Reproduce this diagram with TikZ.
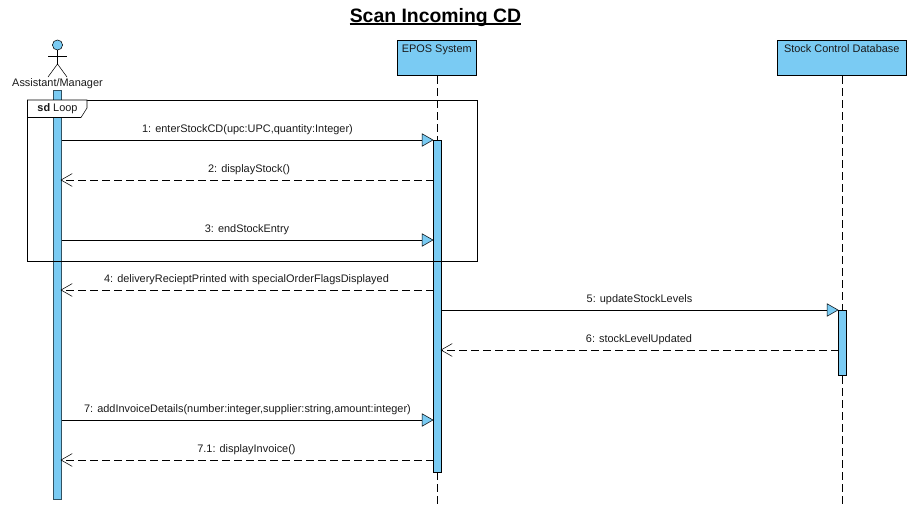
\documentclass[tikz,border=0pt]{standalone}
\usepackage{fontspec}
\setmainfont{Liberation Sans}
\usetikzlibrary{positioning,arrows.meta}
\definecolor{barblue}{HTML}{7ACBF3}
\definecolor{inktext}{HTML}{1A1A1A}
\tikzset{
line width=0.75pt,
lifebox/.style={draw, fill=barblue, anchor=north west, inner sep=0pt},
lifeline/.style={dash pattern=on 6pt off 3pt},
activation/.style={draw, fill=barblue, minimum width=6.2pt, inner sep=0pt, anchor=north},
msgtext/.style={font=\fontsize{8.2}{10}\selectfont, text=inktext, inner sep=0pt},
call/.style={-{Triangle[open, fill=barblue, length=8.8pt, width=10pt]}},
reply/.style={dash pattern=on 6pt off 3pt, -{Straight Barb[length=8.4pt, width=9.6pt]}},
}

\begin{document}
\begin{tikzpicture}
    [x=0.75pt, y=-0.75pt]
    \useasboundingbox (0,0) rectangle (911,504);

    \node [font=\bfseries\fontsize{14.55}{16}\selectfont, inner sep=0pt, anchor=base] (title) at (435.5,22.7) {Scan Incoming CD};
    \draw [line width=1.4pt] ([yshift=-1.1pt]title.base west) -- ([yshift=-1.1pt]title.base east);

    % actor
    \node [draw, circle, fill=barblue, minimum size=7.6pt, inner sep=0pt] (head) at (57.5,45) {};
    \coordinate (armL) at (48,56);
    \coordinate (armR) at (67,56);
    \coordinate (hip) at (57.5,64);
    \coordinate (footL) at (48,77);
    \coordinate (footR) at (67,77);
    \draw (head) -- (hip);
    \draw (armL) -- (armR);
    \draw (footL) -- (hip) -- (footR);
    \node [msgtext] (actor) at (57.5,84) {Assistant/Manager};

    % lifeline heads
    \node [lifebox, minimum width=59.25pt, minimum height=26.6pt] (epos) at (397,40) {};
    \node [msgtext, below=3.6pt of epos.north] (eposname) {EPOS System};
    \node [lifebox, minimum width=96.75pt, minimum height=26.6pt] (stock) at (777,40) {};
    \node [msgtext, below=3.6pt of stock.north] (stockname) {Stock Control Database};

    \coordinate (pageend) at (0,504);
    \draw [lifeline] (epos.south) -- (epos.south |- pageend);
    \draw [lifeline] (stock.south) -- (stock.south |- pageend);

    % activations
    \node [activation, draw=barblue!40!black, minimum height=307pt] (barA) at (57.5,90) {};
    \node [activation, minimum height=249pt] (barB) at (437.5,140) {};
    \node [activation, minimum height=48.4pt] (barC) at (842.5,310) {};

    % loop frame
    \coordinate (frameNW) at (27.5,100);
    \coordinate (frameSE) at (477.5,261);
    \coordinate (tabA) at (87,100);
    \coordinate (tabB) at (87,108);
    \coordinate (tabC) at (81,117.5);
    \coordinate (tabD) at (27.5,117.5);
    \draw (frameNW) rectangle (frameSE);
    \draw [fill=white] (frameNW) -- (tabA) -- (tabB) -- (tabC) -- (tabD) -- cycle;
    \node [msgtext] (loopname) at (57.5,109) {\textbf{sd} Loop};

    % messages
    \coordinate (m1a) at (61.5,140);
    \coordinate (m1b) at (433.5,140);
    \coordinate (m2a) at (433.5,180);
    \coordinate (m2b) at (60.5,180);
    \coordinate (m3a) at (61.5,240);
    \coordinate (m3b) at (433.5,240);
    \coordinate (m4a) at (433.5,290);
    \coordinate (m4b) at (60.5,290);
    \coordinate (m5a) at (441.5,310);
    \coordinate (m5b) at (838.5,310);
    \coordinate (m6a) at (838.5,350);
    \coordinate (m6b) at (440.5,350);
    \coordinate (m7a) at (61.5,420);
    \coordinate (m7b) at (433.5,420);
    \coordinate (m8a) at (433.5,460);
    \coordinate (m8b) at (60.5,460);

    \draw [call] (m1a) -- (m1b);
    \draw [reply] (m2a) -- (m2b);
    \draw [call] (m3a) -- (m3b);
    \draw [reply] (m4a) -- (m4b);
    \draw [call] (m5a) -- (m5b);
    \draw [reply] (m6a) -- (m6b);
    \draw [call] (m7a) -- (m7b);
    \draw [reply] (m8a) -- (m8b);

    \node [msgtext] (t1) at (247.5,129.5) {1: enterStockCD(upc:UPC,quantity:Integer)};
    \node [msgtext] (t2) at (249,169.5) {2: displayStock()};
    \node [msgtext] (t3) at (247,229.5) {3: endStockEntry};
    \node [msgtext] (t4) at (246.5,279.5) {4: deliveryRecieptPrinted with specialOrderFlagsDisplayed};
    \node [msgtext] (t5) at (639.5,299.5) {5: updateStockLevels};
    \node [msgtext] (t6) at (639,339.5) {6: stockLevelUpdated};
    \node [msgtext] (t7) at (247.5,409.5) {7: addInvoiceDetails(number:integer,supplier:string,amount:integer)};
    \node [msgtext] (t8) at (246.5,449.5) {7.1: displayInvoice()};
\end{tikzpicture}
\end{document}
